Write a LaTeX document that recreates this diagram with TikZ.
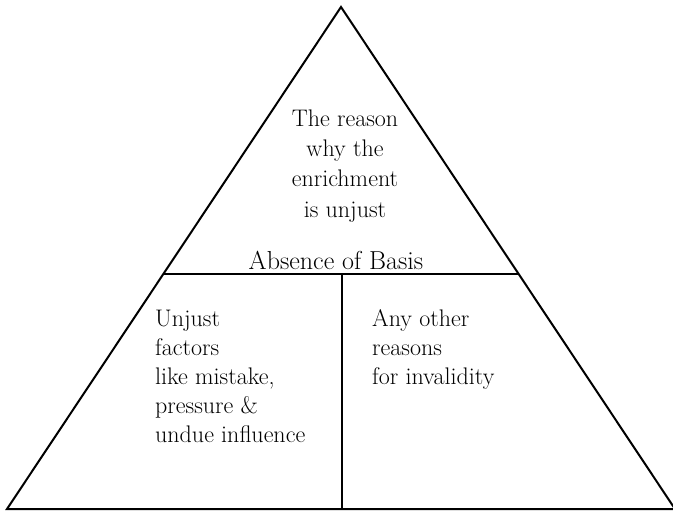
\documentclass[tikz,border=0pt]{standalone}
\begin{document}
\begin{tikzpicture}[x=1pt,y=-1pt,
  edge/.style={line width=2pt,line join=miter},
  uppertext/.style={font=\fontsize{24}{30.3}\selectfont,inner sep=0pt},
  lowertext/.style={font=\fontsize{24}{29}\selectfont,inner sep=0pt},
  title/.style={font=\fontsize{26}{30}\selectfont,inner sep=0pt}]
\useasboundingbox (0,0) rectangle (673,511);
\clip (0,0) rectangle (673,511);
\coordinate (apex) at (341,7);
\coordinate (bl) at (7,509);
\coordinate (br) at (675,509);
\coordinate (ml) at (163,274);
\coordinate (mr) at (519,274);
\coordinate (mt) at (342,274);
\coordinate (mb) at (342,509);
\draw[edge] (apex) -- (bl) -- (br) -- cycle;
\draw[edge] (ml) -- (mr);
\draw[edge] (mt) -- (mb);
\node[uppertext,align=center,anchor=base] (top) at (345,217)
  {The reason\\why the\\enrichment\\is unjust};
\node[title,anchor=base] (basis) at (336,269) {Absence of Basis};
\node[lowertext,align=left,anchor=base west] (left) at (155,442)
  {Unjust\\factors\\like mistake,\\pressure \&\\undue influence};
\node[lowertext,align=left,anchor=base west] (right) at (372,384)
  {Any other\\reasons\\for invalidity};
\end{tikzpicture}
\end{document}
